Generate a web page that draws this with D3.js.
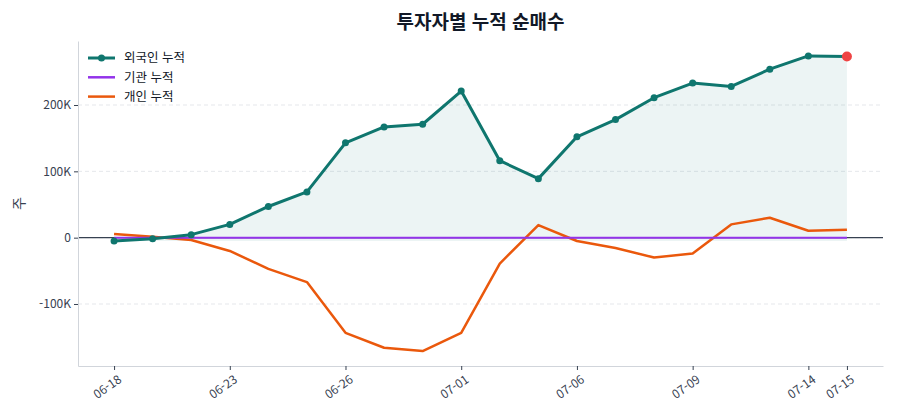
<!DOCTYPE html>
<html lang="ko">
<head>
  <meta charset="utf-8">
  <title>투자자별 누적 순매수</title>
  <script src="https://d3js.org/d3.v7.min.js"></script>
  <style>
    body { margin: 0; background: #fff; }
    #chart text { font-family: "Noto Sans CJK KR", "Noto Sans", sans-serif; }
    .axis text { fill: #374151; font-size: 12px; }
    .axis .domain { stroke: #d1d5db; }
    .axis .tick line { stroke: #374151; }
  </style>
</head>
<body>
<div id="chart"></div>
<script>
"use strict"

// 거래일
var dates = ["06-18", "06-19", "06-20", "06-23", "06-24", "06-25", "06-26", "06-27", "06-30", "07-01",
             "07-02", "07-03", "07-06", "07-07", "07-08", "07-09", "07-10", "07-11", "07-14", "07-15"];
var tickDates = ["06-18", "06-23", "06-26", "07-01", "07-06", "07-09", "07-14", "07-15"];

// 누적 순매수 (주)
var foreign = [-5000, -1500, 4500, 20000, 47000, 69000, 143000, 167000, 171000, 221000,
               116000, 89000, 152000, 178000, 211000, 233000, 228000, 254000, 274000, 273000];
var institution = [0, 0, 0, 0, 0, 0, 0, 0, 0, 0,
                   0, 0, 0, 0, 0, 0, 0, 0, 0, 0];
var individual = [5500, 1500, -3500, -20000, -47000, -67000, -143500, -166000, -171000, -143500,
                  -39000, 19000, -5000, -15500, -30000, -24000, 20000, 30000, 10500, 12000];

var yTicks = [-100000, 0, 100000, 200000];

var W = 900, H = 420;
var margin = {top: 41, right: 17, bottom: 54, left: 78};
var w = W - margin.left - margin.right,
    h = H - margin.top - margin.bottom;

var svg = d3.select("#chart").append("svg")
    .attr("width", W).attr("height", H);

var g = svg.append("g")
    .attr("transform", "translate(" + margin.left + "," + margin.top + ")");

var x = d3.scalePoint().domain(dates).range([0, w]).padding(0.935);
var y = d3.scaleLinear().domain([-193500, 296500]).range([h, 0]);

var fmt = v => v === 0 ? "0" : (v / 1000) + "K";

// 그리드
g.selectAll(".grid").data(yTicks).enter().append("line")
    .attr("x1", 0).attr("x2", w)
    .attr("y1", d => y(d)).attr("y2", d => y(d))
    .attr("stroke", "#e5e7eb").attr("stroke-dasharray", "4,3");

// 외국인 영역
var base = d3.min(foreign);
g.append("path")
    .datum(foreign)
    .attr("fill", "#0f766e").attr("fill-opacity", 0.08)
    .attr("d", d3.area()
        .x((d, i) => x(dates[i]))
        .y0(y(base))
        .y1(d => y(d)));

// 0 기준선
g.append("line")
    .attr("x1", 0).attr("x2", w)
    .attr("y1", y(0)).attr("y2", y(0))
    .attr("stroke", "#374151").attr("stroke-width", 1.2);

var line = d3.line().x((d, i) => x(dates[i])).y(d => y(d));

g.append("path").datum(individual)
    .attr("fill", "none").attr("stroke", "#ea580c").attr("stroke-width", 2.5)
    .attr("stroke-linejoin", "round").attr("d", line);

g.append("path").datum(institution)
    .attr("fill", "none").attr("stroke", "#9333ea").attr("stroke-width", 2)
    .attr("d", line);

g.append("path").datum(foreign)
    .attr("fill", "none").attr("stroke", "#0f766e").attr("stroke-width", 3)
    .attr("stroke-linejoin", "round").attr("d", line);

g.selectAll(".dot").data(foreign).enter().append("circle")
    .attr("cx", (d, i) => x(dates[i])).attr("cy", d => y(d))
    .attr("r", (d, i) => i === foreign.length - 1 ? 5 : 3.5)
    .attr("fill", (d, i) => i === foreign.length - 1 ? "#ef4444" : "#0f766e");

// 축
g.append("g").attr("class", "axis")
    .attr("transform", "translate(0," + h + ")")
    .call(d3.axisBottom(x).tickValues(tickDates).tickSize(4).tickSizeOuter(0))
  .selectAll("text")
    .attr("text-anchor", "end")
    .attr("dx", "-0.2em").attr("dy", "0.85em")
    .attr("transform", "rotate(-35)");

g.append("g").attr("class", "axis")
    .call(d3.axisLeft(y).tickValues(yTicks).tickFormat(fmt).tickSize(4).tickSizeOuter(0));

// 제목, 라벨
svg.append("text")
    .attr("x", margin.left + w / 2).attr("y", 29)
    .attr("text-anchor", "middle")
    .attr("font-size", "19px").attr("font-weight", "bold").attr("fill", "#111827")
    .text("투자자별 누적 순매수");

svg.append("text")
    .attr("transform", "translate(24," + (margin.top + h / 2) + ") rotate(-90)")
    .attr("text-anchor", "middle")
    .attr("font-size", "14px").attr("fill", "#374151")
    .text("주");

// 범례
var legend = [
  {name: "외국인 누적", color: "#0f766e", width: 3, dot: true},
  {name: "기관 누적", color: "#9333ea", width: 2.5, dot: false},
  {name: "개인 누적", color: "#ea580c", width: 2.5, dot: false}
];
var lg = svg.append("g").attr("transform", "translate(88,58)");
var item = lg.selectAll("g").data(legend).enter().append("g")
    .attr("transform", (d, i) => "translate(0," + i * 19.3 + ")");
item.append("line").attr("x1", 0).attr("x2", 27)
    .attr("stroke", d => d.color).attr("stroke-width", d => d.width);
item.filter(d => d.dot).append("circle").attr("cx", 13.5).attr("r", 3.5).attr("fill", d => d.color);
item.append("text").attr("x", 36).attr("dy", "0.35em")
    .attr("font-size", "12.5px").attr("fill", "#111827")
    .text(d => d.name);
</script>
</body>
</html>
